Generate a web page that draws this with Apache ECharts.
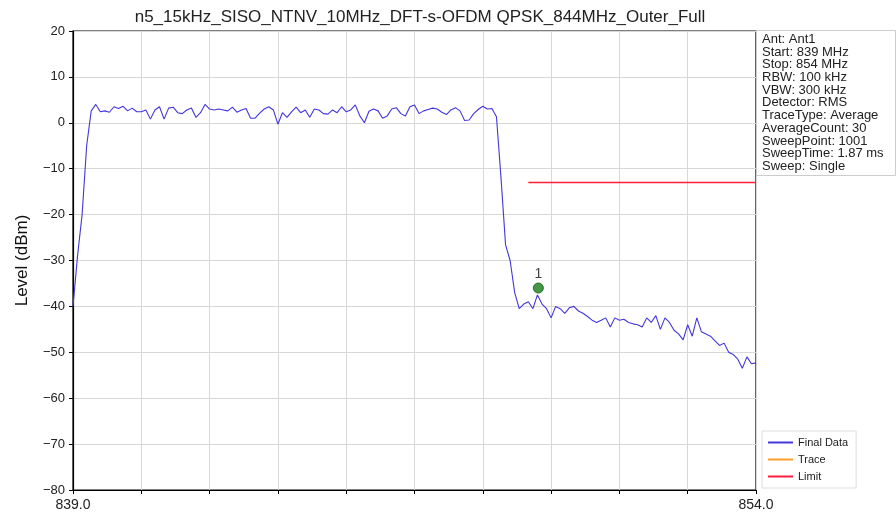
<!DOCTYPE html>
<html>
<head>
<meta charset="utf-8">
<script src="https://cdn.jsdelivr.net/npm/echarts@6/dist/echarts.min.js"></script>
<style>
html,body{margin:0;padding:0;background:#fff;}
#chart{width:896px;height:517px;}
</style>
</head>
<body>
<div id="chart"></div>
<script>
// ---- data ----
const startFreq = 839.0;   // MHz
const stopFreq = 854.0;    // MHz
const sweepStep = 0.1;     // MHz between plotted sweep points
const finalLevels = [
  -40, -29, -20, -5, 2.6, 4.0, 2.4, 2.6, 2.3, 3.5,
  3.1, 3.6, 2.6, 3.2, 2.4, 2.4, 2.8, 0.8, 2.8, 3.5,
  0.8, 3.2, 3.4, 2.2, 2.0, 2.8, 3.2, 1.2, 2.2, 4.0,
  3.0, 2.8, 3.0, 2.8, 2.6, 3.4, 2.3, 2.8, 3.1, 1.0,
  1.0, 2.1, 3.0, 3.5, 2.8, -0.3, 2.2, 1.2, 2.4, 3.4,
  2.2, 2.8, 1.2, 3.0, 2.8, 2.0, 1.9, 2.8, 2.2, 3.5,
  2.4, 2.8, 3.9, 1.5, 0.0, 2.5, 3.0, 2.6, 1.0, 1.5,
  3.0, 3.3, 2.0, 1.5, 3.5, 3.9, 2.0, 2.6, 2.9, 3.2,
  3.0, 2.3, 1.8, 2.8, 3.3, 2.6, 0.5, 0.6, 2.0, 2.9,
  3.6, 3.0, 3.1, 1.3, -12, -26.6, -30, -37, -40.5, -39.5,
  -39, -40.5, -37.5, -39.5, -40.5, -42.5, -40, -40.5, -41.5, -40.3,
  -40, -41, -41.5, -42.2, -43, -43.5, -43, -42.5, -44.5, -42.5,
  -43, -42.8, -43.5, -43.8, -44, -44.5, -42.5, -43.5, -42, -45,
  -42.5, -43.5, -45.2, -46, -47.3, -44, -46.5, -42.5, -45.5, -46,
  -46.5, -47.5, -48.5, -48, -50, -50.5, -51.5, -53.5, -51, -52.5,
  -52.3
];
const traceLevels = [];               // "Trace" has no visible samples
const limitFreqs = [849.0, 854.0];
const limitLevels = [-13, -13];
const markerFreqs = [849.22];
const markerLevels = [-36.0];
const markerNames = ['1'];
const yTicks = { min: -80, max: 20, step: 10 };
const xTickStep = 1.5;
const infoLines = [
  'Ant: Ant1', 'Start: 839 MHz', 'Stop: 854 MHz', 'RBW: 100 kHz', 'VBW: 300 kHz',
  'Detector: RMS', 'TraceType: Average', 'AverageCount: 30', 'SweepPoint: 1001',
  'SweepTime: 1.87 ms', 'Sweep: Single'
];
const titleText = 'n5_15kHz_SISO_NTNV_10MHz_DFT-s-OFDM QPSK_844MHz_Outer_Full';

// ---- build ----
const FONT = 'Liberation Sans, Arial, sans-serif';
const rel = f => +(f - startFreq).toFixed(4);
const finalData = finalLevels.map((v, i) => [+(i * sweepStep).toFixed(4), v]);
const limitData = limitFreqs.map((f, i) => [rel(f), limitLevels[i]]);
const markerData = markerFreqs.map((f, i) => ({ value: [rel(f), markerLevels[i]], name: markerNames[i] }));
const span = stopFreq - startFreq;

const chart = echarts.init(document.getElementById('chart'), null, { renderer: 'canvas' });
chart.setOption({
  backgroundColor: '#fff',
  animation: false,
  textStyle: { fontFamily: FONT },
  title: [
    { text: titleText, left: 415, top: 4, textAlign: 'center',
      textStyle: { fontSize: 17, fontWeight: 'normal', color: '#222', fontFamily: FONT } },
    { text: infoLines.join('\n'), left: 756, top: 30, padding: [3, 12, 3, 6],
      borderColor: '#cccccc', borderWidth: 1, backgroundColor: '#fff',
      textStyle: { fontSize: 13, lineHeight: 12.7, fontWeight: 'normal', color: '#222', fontFamily: FONT } }
  ],
  legend: {
    orient: 'vertical', left: 762, top: 431,
    data: ['Final Data', 'Trace', 'Limit'],
    icon: 'rect', itemWidth: 25, itemHeight: 2, itemGap: 6,
    padding: [6, 8, 6, 6],
    borderColor: '#dddddd', borderWidth: 1, backgroundColor: '#fff',
    textStyle: { fontSize: 11, color: '#222', fontFamily: FONT }
  },
  grid: { left: 73, right: 140, top: 31, bottom: 27, show: true, borderColor: '#000', borderWidth: 1.2, backgroundColor: 'transparent' },
  xAxis: {
    type: 'value', min: 0, max: span, interval: xTickStep,
    axisLine: { show: true, onZero: false, lineStyle: { color: '#000', width: 1.2 } },
    axisTick: { show: true, length: 4, lineStyle: { color: '#000' } },
    axisLabel: { color: '#222', fontSize: 14, margin: 8, fontFamily: FONT,
      formatter: v => (Math.abs(v) < 1e-6 || Math.abs(v - span) < 1e-6) ? (startFreq + v).toFixed(1) : '' },
    splitLine: { show: true, lineStyle: { color: '#d8d8d8', width: 1 } }
  },
  yAxis: {
    type: 'value', min: yTicks.min, max: yTicks.max, interval: yTicks.step,
    name: 'Level (dBm)', nameLocation: 'middle', nameGap: 42, nameRotate: 90,
    nameTextStyle: { fontSize: 17, color: '#111', fontFamily: FONT },
    axisLine: { show: true, onZero: false, lineStyle: { color: '#000', width: 1.2 } },
    axisTick: { show: true, length: 4, lineStyle: { color: '#000' } },
    axisLabel: { color: '#222', fontSize: 13, margin: 8, fontFamily: FONT,
      formatter: v => String(v).replace('-', '\u2212') },
    splitLine: { show: true, lineStyle: { color: '#d8d8d8', width: 1 } }
  },
  series: [
    { name: 'Final Data', type: 'line', data: finalData, showSymbol: false, symbol: 'none',
      lineStyle: { color: '#4236dc', width: 1.1 }, itemStyle: { color: '#4236dc' }, z: 3 },
    { name: 'Trace', type: 'line', data: traceLevels, showSymbol: false,
      lineStyle: { color: '#ff9f2a', width: 1.2 }, itemStyle: { color: '#ff9f2a' } },
    { name: 'Limit', type: 'line', data: limitData, showSymbol: false, symbol: 'none',
      lineStyle: { color: '#ff1f3a', width: 1.6 }, itemStyle: { color: '#ff1f3a' }, z: 2 },
    { name: 'Marker', type: 'scatter', data: markerData, symbol: 'circle', symbolSize: 10,
      itemStyle: { color: '#1a7d1a', borderColor: '#0b5a0b', borderWidth: 1 }, z: 5,
      label: { show: true, position: 'top', distance: 1, formatter: p => p.name, fontSize: 14, color: '#111', fontFamily: FONT } }
  ]
});
</script>
</body>
</html>
